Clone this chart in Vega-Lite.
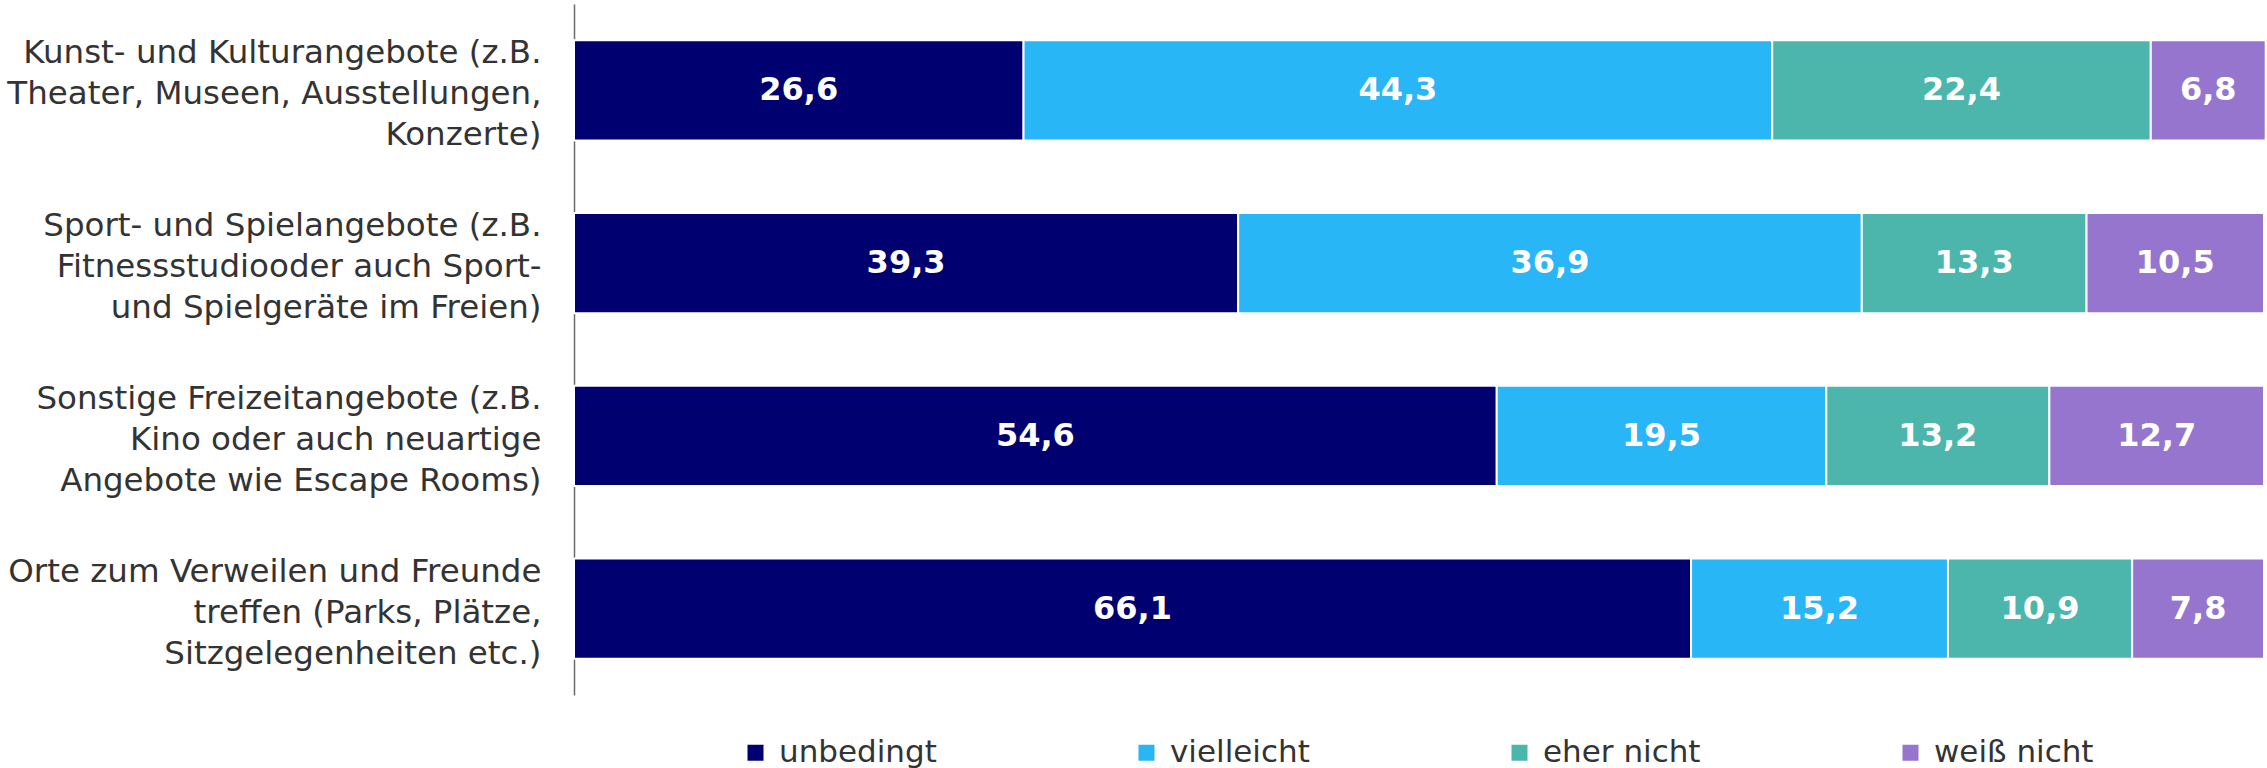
{
  "$schema": "https://vega.github.io/schema/vega-lite/v6.json",
  "width": 1690,
  "height": 691,
  "autosize": "none",
  "padding": {"left": 574, "top": 4, "right": 3, "bottom": 73},
  "background": "white",
  "config": {
    "view": {"stroke": null},
    "font": "DejaVu Sans",
    "locale": {"number": {"decimal": ",", "thousands": ".", "grouping": [3], "currency": ["", " €"]}}
  },
  "data": {
    "values": [
      {"Angebot": "Kunst- und Kulturangebote (z.B.\nTheater, Museen, Ausstellungen,\nKonzerte)", "Antwort": "unbedingt", "Rang": 1, "Wert": 26.6},
      {"Angebot": "Kunst- und Kulturangebote (z.B.\nTheater, Museen, Ausstellungen,\nKonzerte)", "Antwort": "vielleicht", "Rang": 2, "Wert": 44.3},
      {"Angebot": "Kunst- und Kulturangebote (z.B.\nTheater, Museen, Ausstellungen,\nKonzerte)", "Antwort": "eher nicht", "Rang": 3, "Wert": 22.4},
      {"Angebot": "Kunst- und Kulturangebote (z.B.\nTheater, Museen, Ausstellungen,\nKonzerte)", "Antwort": "weiß nicht", "Rang": 4, "Wert": 6.8},
      {"Angebot": "Sport- und Spielangebote (z.B.\nFitnessstudiooder auch Sport-\nund Spielgeräte im Freien)", "Antwort": "unbedingt", "Rang": 1, "Wert": 39.3},
      {"Angebot": "Sport- und Spielangebote (z.B.\nFitnessstudiooder auch Sport-\nund Spielgeräte im Freien)", "Antwort": "vielleicht", "Rang": 2, "Wert": 36.9},
      {"Angebot": "Sport- und Spielangebote (z.B.\nFitnessstudiooder auch Sport-\nund Spielgeräte im Freien)", "Antwort": "eher nicht", "Rang": 3, "Wert": 13.3},
      {"Angebot": "Sport- und Spielangebote (z.B.\nFitnessstudiooder auch Sport-\nund Spielgeräte im Freien)", "Antwort": "weiß nicht", "Rang": 4, "Wert": 10.5},
      {"Angebot": "Sonstige Freizeitangebote (z.B.\nKino oder auch neuartige\nAngebote wie Escape Rooms)", "Antwort": "unbedingt", "Rang": 1, "Wert": 54.6},
      {"Angebot": "Sonstige Freizeitangebote (z.B.\nKino oder auch neuartige\nAngebote wie Escape Rooms)", "Antwort": "vielleicht", "Rang": 2, "Wert": 19.5},
      {"Angebot": "Sonstige Freizeitangebote (z.B.\nKino oder auch neuartige\nAngebote wie Escape Rooms)", "Antwort": "eher nicht", "Rang": 3, "Wert": 13.2},
      {"Angebot": "Sonstige Freizeitangebote (z.B.\nKino oder auch neuartige\nAngebote wie Escape Rooms)", "Antwort": "weiß nicht", "Rang": 4, "Wert": 12.7},
      {"Angebot": "Orte zum Verweilen und Freunde\ntreffen (Parks, Plätze,\nSitzgelegenheiten etc.)", "Antwort": "unbedingt", "Rang": 1, "Wert": 66.1},
      {"Angebot": "Orte zum Verweilen und Freunde\ntreffen (Parks, Plätze,\nSitzgelegenheiten etc.)", "Antwort": "vielleicht", "Rang": 2, "Wert": 15.2},
      {"Angebot": "Orte zum Verweilen und Freunde\ntreffen (Parks, Plätze,\nSitzgelegenheiten etc.)", "Antwort": "eher nicht", "Rang": 3, "Wert": 10.9},
      {"Angebot": "Orte zum Verweilen und Freunde\ntreffen (Parks, Plätze,\nSitzgelegenheiten etc.)", "Antwort": "weiß nicht", "Rang": 4, "Wert": 7.8}
    ]
  },
  "encoding": {
    "y": {
      "field": "Angebot",
      "type": "nominal",
      "sort": null,
      "scale": {"paddingInner": 0.42, "paddingOuter": 0.21},
      "axis": {
        "title": null,
        "ticks": false,
        "domain": true,
        "domainColor": "#6b6b6b",
        "domainWidth": 1.5,
        "labelPadding": 33,
        "labelFont": "DejaVu Sans",
        "labelFontSize": 32.5,
        "labelColor": "#333333",
        "labelLineHeight": 41,
        "labelOffset": -37,
        "labelLimit": 700,
        "labelAlign": "right",
        "labelBaseline": "middle",
        "labelExpr": "split(datum.label, '\\n')"
      }
    }
  },
  "layer": [
    {
      "mark": {"type": "bar", "stroke": "white", "strokeWidth": 2},
      "encoding": {
        "x": {"field": "Wert", "type": "quantitative", "stack": "zero", "scale": {"domain": [0, 100]}, "axis": null},
        "color": {
          "field": "Antwort",
          "type": "nominal",
          "scale": {"domain": ["unbedingt", "vielleicht", "eher nicht", "weiß nicht"], "range": ["#000070", "#29B6F6", "#4DB6AC", "#9575CD"]},
          "legend": {
            "title": null,
            "orient": "none",
            "legendX": 166,
            "legendY": 733,
            "direction": "horizontal",
            "columns": 4,
            "symbolType": "square",
            "symbolSize": 256,
            "symbolStrokeWidth": 0,
            "labelFont": "DejaVu Sans",
            "labelFontSize": 31,
            "labelColor": "#333333",
            "labelOffset": 8,
            "columnPadding": 194,
            "labelLimit": 400
          }
        },
        "order": {"field": "Rang", "type": "quantitative"}
      }
    },
    {
      "mark": {"type": "text", "font": "DejaVu Sans", "fontWeight": "bold", "fontSize": 32, "color": "white", "align": "center", "baseline": "middle"},
      "encoding": {
        "x": {"field": "Wert", "type": "quantitative", "stack": "zero", "bandPosition": 0.5},
        "detail": {"field": "Antwort", "type": "nominal"},
        "order": {"field": "Rang", "type": "quantitative"},
        "text": {"field": "Wert", "type": "quantitative", "format": ".1f"}
      }
    }
  ]
}
